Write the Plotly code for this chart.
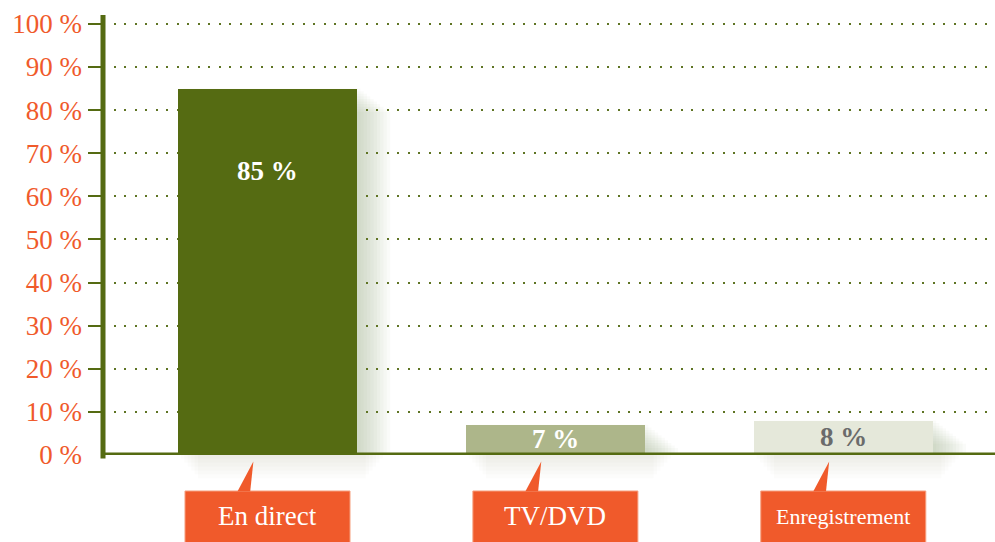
import plotly.graph_objects as go

categories = ["En direct", "TV/DVD", "Enregistrement"]
values = [85, 7, 8]
value_labels = ["85 %", "7 %", "8 %"]
bar_colors = ["#556B12", "#ADB68A", "#E5E8DA"]
value_text_colors = ["#FFFFFF", "#FFFFFF", "#6B6B6B"]
label_sizes = [27, 27, 22]
tick_values = [0, 10, 20, 30, 40, 50, 60, 70, 80, 90, 100]
tick_labels = [f"{v} %" for v in tick_values]

OLIVE = "#556B12"
ORANGE = "#F05A2B"
SERIF = "Liberation Serif, Times New Roman, serif"

xs = list(range(len(categories)))
BAR_W = 0.622

fig = go.Figure()
fig.add_trace(go.Bar(
    x=xs, y=values, width=BAR_W,
    marker=dict(color=bar_colors, line=dict(width=0)),
    hoverinfo="skip", showlegend=False,
))

shapes = []
# soft shadows behind bars
for i, v in enumerate(values):
    for k in range(10):
        grow = 0.0115 * (k + 1)
        shapes.append(dict(
            type="rect", xref="x", yref="y", layer="below",
            x0=i - BAR_W / 2 + 0.02, x1=i + BAR_W / 2 + grow,
            y0=-5, y1=v - 0.6 * k,
            fillcolor="rgba(120,140,80,0.035)", line=dict(width=0),
        ))
    for k in range(6):
        shapes.append(dict(
            type="rect", xref="x", yref="paper", layer="below",
            x0=i - BAR_W / 2 + 0.01 + 0.012 * k, x1=i + BAR_W / 2 + 0.09 - 0.012 * k,
            y0=-0.008 - 0.009 * k, y1=0,
            fillcolor="rgba(120,140,80,0.025)", line=dict(width=0),
        ))

# axis lines
shapes.append(dict(type="line", xref="paper", yref="y", x0=0, x1=1.01, y0=0, y1=0,
                   line=dict(color=OLIVE, width=5), layer="above"))
shapes.append(dict(type="line", xref="paper", yref="paper", x0=0, x1=0, y0=-0.008, y1=1,
                   line=dict(color=OLIVE, width=5), layer="above"))

annotations = []
for i, (cat, v) in enumerate(zip(categories, values)):
    # callout box
    shapes.append(dict(type="rect", xref="x", yref="paper",
                       x0=i - 0.2866, x1=i + 0.2866, y0=-0.26, y1=-0.0818,
                       fillcolor=ORANGE, line=dict(color="#F6A080", width=1), layer="above"))
    # pointer
    shapes.append(dict(type="path", xref="x", yref="paper",
                       path=f"M {i-0.104},-0.0825 L {i-0.0490},-0.0148 L {i-0.0600},-0.0825 Z",
                       fillcolor=ORANGE, line=dict(width=0), layer="above"))
    annotations.append(dict(x=i, y=-0.139, xref="x", yref="paper", text=cat,
                            showarrow=False, xanchor="center", yanchor="middle",
                            font=dict(family=SERIF, size=label_sizes[i], color="white")))
    # value labels
    if v > 50:
        annotations.append(dict(x=i, y=v, xref="x", yref="y", text=f"<b>{value_labels[i]}</b>",
                                showarrow=False, yanchor="middle", yshift=-82,
                                font=dict(family=SERIF, size=27, color=value_text_colors[i])))
    else:
        annotations.append(dict(x=i, y=v / 2, xref="x", yref="y", text=f"<b>{value_labels[i]}</b>",
                                showarrow=False, yanchor="middle", yshift=1,
                                font=dict(family=SERIF, size=27, color=value_text_colors[i])))

fig.update_layout(
    width=995, height=542,
    margin=dict(l=103, r=0, t=15, b=87),
    paper_bgcolor="white", plot_bgcolor="white",
    shapes=shapes, annotations=annotations,
    bargap=0,
    xaxis=dict(range=[-0.5714, 2.527], showticklabels=False, showgrid=False,
               zeroline=False, showline=False, ticks=""),
    yaxis=dict(range=[0, 102.06], tickvals=tick_values, ticktext=tick_labels,
               ticks="", ticklabelstandoff=20,
               tickfont=dict(family=SERIF, size=27, color=ORANGE),
               showgrid=True, gridcolor="#5F7424", gridwidth=2, griddash="2px,8.5px",
               zeroline=False, showline=False,
               minor=dict(tickvals=tick_values[1:], ticks="outside", ticklen=14,
                          tickwidth=2, tickcolor=OLIVE, showgrid=False)),
)

fig.write_html("out.html", config={"displayModeBar": False},
               post_script="document.body.style.margin='0px';")
